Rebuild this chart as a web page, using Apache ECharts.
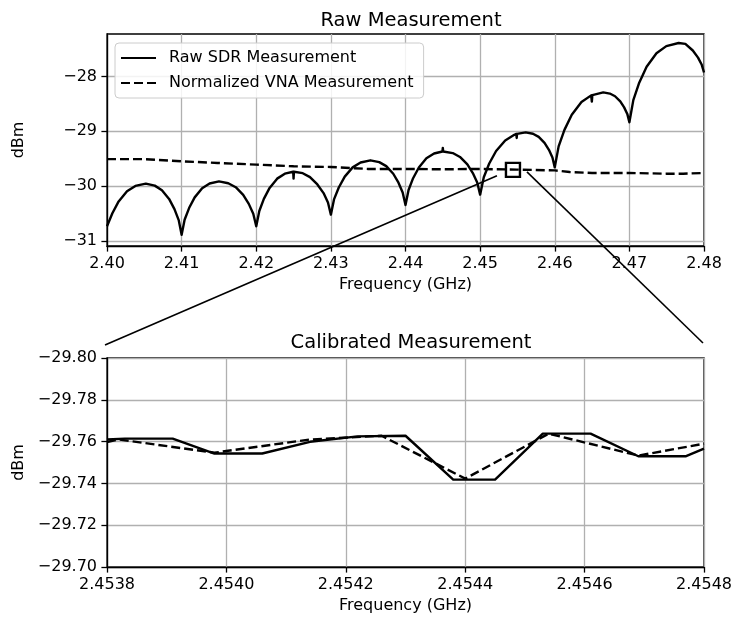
<!DOCTYPE html>
<html><head><meta charset="utf-8">
<script src="https://cdn.jsdelivr.net/npm/echarts@6/dist/echarts.min.js"></script>
<style>html,body{margin:0;padding:0;background:#fff}#c{width:736px;height:621px}</style>
</head><body><div id="c"></div>
<script>
// ---- Raw measurement (top panel) ----
const rawFreq = [2.4000,2.40072,2.40156,2.40268,2.4038,2.4052,2.4064,2.40736,2.40832,2.40904,2.40962,
  2.4100,2.4104,2.4110,2.41175,2.41275,2.41375,2.4150,2.41625,2.41725,2.41825,2.4190,2.4196,
  2.4200,2.42041,2.42102,2.42179,2.4228,2.42383,2.42495,2.4250,2.42505,2.4251,2.42623,2.4272,2.42819,2.42902,2.42961,
  2.4300,2.43042,2.43106,2.43186,2.43292,2.43398,2.4353,2.43648,2.43742,2.43836,2.43906,2.43962,
  2.4400,2.44041,2.44102,2.44179,2.4428,2.44383,2.44495,2.4450,2.44505,2.4451,2.44633,2.4473,2.44829,2.44902,2.44961,
  2.4500,2.45049,2.45122,2.45214,2.45336,2.45458,2.45485,2.4549,2.45495,2.4561,2.45708,2.45785,2.45863,2.45922,2.45969,
  2.4600,2.46052,2.4613,2.46228,2.46358,2.46488,2.46492,2.46497,2.46504,2.4665,2.46738,2.46808,2.46878,2.4693,2.46972,
  2.4700,2.47053,2.47132,2.47231,2.47363,2.47495,2.4766,2.4775,2.4785,2.4792,2.4797,2.4800];
const rawDbm = [-30.727,-30.49,-30.274,-30.09,-29.993,-29.95,-29.987,-30.071,-30.229,-30.415,-30.62,
  -30.88,-30.608,-30.395,-30.201,-30.036,-29.949,-29.91,-29.943,-30.016,-30.155,-30.319,-30.498,
  -30.727,-30.448,-30.229,-30.029,-29.86,-29.77,-29.735,-29.86,-29.735,-29.73,-29.761,-29.832,-29.966,-30.123,-30.295,
  -30.515,-30.238,-30.021,-29.823,-29.655,-29.567,-29.527,-29.56,-29.633,-29.771,-29.934,-30.112,
  -30.34,-30.067,-29.852,-29.657,-29.491,-29.403,-29.366,-29.30,-29.366,-29.364,-29.395,-29.466,-29.60,-29.758,-29.931,
  -30.151,-29.834,-29.585,-29.358,-29.165,-29.063,-29.048,-29.12,-29.046,-29.018,-29.043,-29.101,-29.209,-29.337,-29.477,
  -29.655,-29.273,-28.973,-28.70,-28.468,-28.346,-28.345,-28.46,-28.34,-28.291,-28.313,-28.362,-28.455,-28.564,-28.683,
  -28.836,-28.432,-28.115,-27.826,-27.581,-27.451,-27.393,-27.41,-27.53,-27.66,-27.79,-27.93];
const vnaFreq = [2.400,2.405,2.410,2.4148,2.420,2.425,2.430,2.435,2.440,2.445,2.450,2.4549,2.460,2.462,2.465,2.470,2.475,2.4772,2.480];
const vnaDbm  = [-29.505,-29.505,-29.545,-29.575,-29.605,-29.636,-29.648,-29.684,-29.684,-29.69,-29.684,-29.696,-29.71,-29.74,-29.757,-29.757,-29.77,-29.77,-29.757];

// ---- Calibrated measurement (bottom panel) ----
const calSdrFreq = [2.45380,2.45383,2.45391,2.45398,2.45406,2.45414,2.45422,2.45430,2.45438,2.45445,2.45453,2.45461,2.45469,2.45477,2.45480];
const calSdrDbm  = [-29.7610,-29.7614,-29.7614,-29.7543,-29.7543,-29.7599,-29.7625,-29.7628,-29.7418,-29.7418,-29.7638,-29.7638,-29.7530,-29.7530,-29.7566];
const calVnaFreq = [2.45380,2.45382,2.45398,2.45414,2.45426,2.45440,2.45454,2.45469,2.45480];
const calVnaDbm  = [-29.7598,-29.7610,-29.7547,-29.7610,-29.7628,-29.7423,-29.7638,-29.7533,-29.7590];

// ---- ticks / ranges ----
const rawYTicks = [-31, -30, -29, -28];
const zoomBox = [2.4544, -29.70];

const zip = (a, b) => a.map((v, i) => [v, b[i]]);
const minus = s => String(s).replace('-', '\u2212');
const FONT = 'DejaVu Sans';
const BLACK = '#000';
const txt = {fontFamily: FONT, fontSize: 16, color: BLACK};

function axisBase(extra) {
  return Object.assign({
    type: 'value',
    axisLine: {show: true, onZero: false, lineStyle: {color: BLACK, width: 1.3}},
    axisTick: {show: true, length: 5.6, lineStyle: {color: BLACK, width: 1.3}},
    axisLabel: Object.assign({margin: 10}, txt),
    splitLine: {show: true, lineStyle: {color: '#b0b0b0', width: 1.3}},
    nameTextStyle: txt
  }, extra);
}

const chart = echarts.init(document.getElementById('c'));
const option = {
  animation: false,
  backgroundColor: '#fff',
  title: [
    {text: 'Raw Measurement', left: 406, top: 6, textAlign: 'center',
     textStyle: {fontFamily: FONT, fontSize: 19.5, fontWeight: 'normal', color: BLACK}},
    {text: 'Calibrated Measurement', left: 406, top: 328, textAlign: 'center',
     textStyle: {fontFamily: FONT, fontSize: 19.5, fontWeight: 'normal', color: BLACK}}
  ],
  legend: {
    data: ['Raw SDR Measurement', 'Normalized VNA Measurement'],
    orient: 'vertical', left: 115, top: 43,
    padding: [7, 10, 7, 5], itemWidth: 35, itemHeight: 14, itemGap: 9,
    backgroundColor: 'rgba(255,255,255,0.85)', borderColor: '#cccccc', borderWidth: 1, borderRadius: 4,
    itemStyle: {color: 'rgba(0,0,0,0)', borderColor: 'rgba(0,0,0,0)', borderWidth: 0, opacity: 0},
    textStyle: {fontFamily: FONT, fontSize: 16, color: BLACK, padding: [0, 0, 0, 8]}
  },
  grid: [
    {left: 107, right: 32, top: 34, height: 212, show: true, borderColor: BLACK, borderWidth: 1.3},
    {left: 107, right: 32, top: 358, height: 209, show: true, borderColor: BLACK, borderWidth: 1.3}
  ],
  xAxis: [
    axisBase({gridIndex: 0, min: 2.40, max: 2.48, interval: 0.01,
      name: 'Frequency (GHz)', nameLocation: 'middle', nameGap: 31,
      axisLabel: Object.assign({margin: 10, formatter: v => v.toFixed(2)}, txt)}),
    axisBase({gridIndex: 1, min: 2.4538, max: 2.4548, interval: 0.0002,
      name: 'Frequency (GHz)', nameLocation: 'middle', nameGap: 31,
      axisLabel: Object.assign({margin: 10, formatter: v => v.toFixed(4)}, txt)})
  ],
  yAxis: [
    axisBase({gridIndex: 0, min: -31.085, max: -27.23,
      name: 'dBm', nameLocation: 'middle', nameGap: 80,
      axisTick: {show: true, length: 5.6, customValues: rawYTicks, lineStyle: {color: BLACK, width: 1.3}},
      axisLabel: Object.assign({margin: 10, customValues: rawYTicks, formatter: v => minus(Math.round(v))}, txt)}),
    axisBase({gridIndex: 1, min: -29.80, max: -29.70, interval: 0.02, inverse: true,
      name: 'dBm', nameLocation: 'middle', nameGap: 80,
      axisLabel: Object.assign({margin: 10, formatter: v => minus(v.toFixed(2))}, txt)})
  ],
  series: [
    {type: 'line', name: 'Raw SDR Measurement', xAxisIndex: 0, yAxisIndex: 0,
     data: zip(rawFreq, rawDbm), symbol: 'none', itemStyle: {color: BLACK},
     lineStyle: {color: BLACK, width: 2.4, join: 'round'}},
    {type: 'line', name: 'Normalized VNA Measurement', xAxisIndex: 0, yAxisIndex: 0,
     data: zip(vnaFreq, vnaDbm), symbol: 'none', itemStyle: {color: BLACK},
     lineStyle: {color: BLACK, width: 2.4, type: [9, 4], join: 'round'}},
    {type: 'scatter', name: 'zoom', xAxisIndex: 0, yAxisIndex: 0, silent: true, z: 5,
     data: [zoomBox], symbol: 'rect', symbolSize: 14,
     itemStyle: {color: 'rgba(0,0,0,0)', borderColor: BLACK, borderWidth: 2.4, opacity: 1}},
    {type: 'line', name: 'Raw SDR Measurement', xAxisIndex: 1, yAxisIndex: 1,
     data: zip(calSdrFreq, calSdrDbm), symbol: 'none', itemStyle: {color: BLACK},
     lineStyle: {color: BLACK, width: 2.4, join: 'round'}},
    {type: 'line', name: 'Normalized VNA Measurement', xAxisIndex: 1, yAxisIndex: 1,
     data: zip(calVnaFreq, calVnaDbm), symbol: 'none', itemStyle: {color: BLACK},
     lineStyle: {color: BLACK, width: 2.4, type: [9, 4], join: 'round'}}
  ]
};
chart.setOption(option);

// connector lines from the zoom box to the calibrated panel corners
const c = chart.convertToPixel({xAxisIndex: 0, yAxisIndex: 0}, zoomBox);
const bl = chart.convertToPixel({xAxisIndex: 1, yAxisIndex: 1}, [2.4538, -29.80]);
const br = chart.convertToPixel({xAxisIndex: 1, yAxisIndex: 1}, [2.4548, -29.80]);
chart.setOption({
  graphic: [
    {type: 'line', z: 100, silent: true,
     shape: {x1: bl[0] - 2, y1: bl[1] - 13, x2: c[0] - 16, y2: c[1] + 6},
     style: {stroke: BLACK, lineWidth: 1.6}},
    {type: 'line', z: 100, silent: true,
     shape: {x1: c[0] + 14, y1: c[1] + 2, x2: br[0] - 1, y2: br[1] - 15},
     style: {stroke: BLACK, lineWidth: 1.6}}
  ]
});
</script></body></html>
